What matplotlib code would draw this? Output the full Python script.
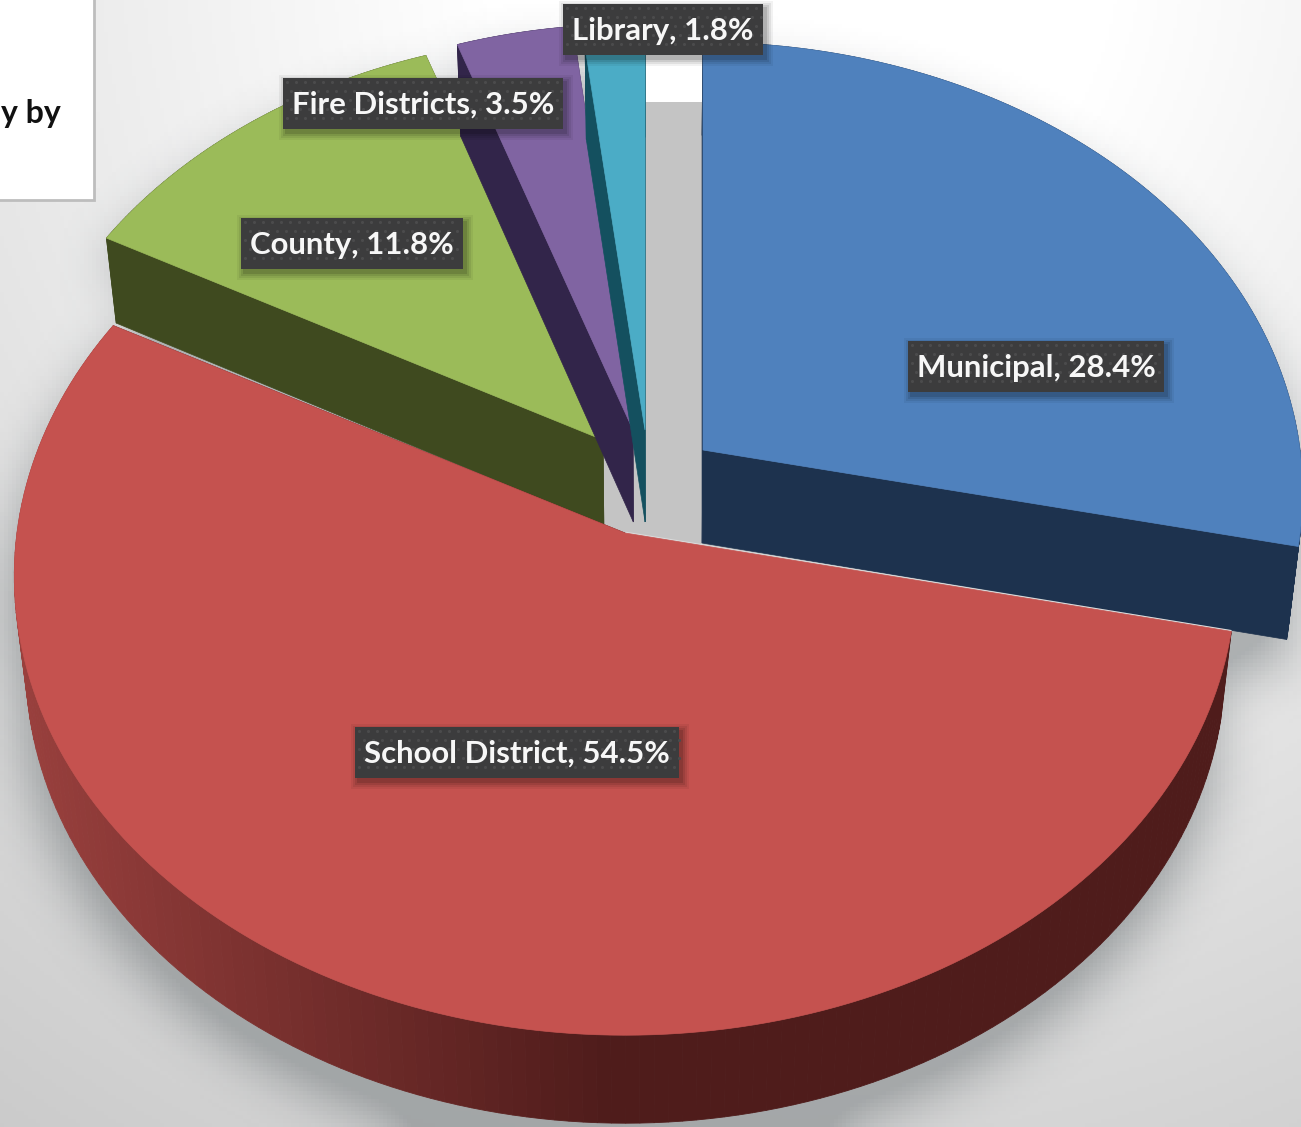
import numpy as np
import matplotlib
matplotlib.use("Agg")
import matplotlib.pyplot as plt
from matplotlib.patches import Polygon, Rectangle
from matplotlib.path import Path

W, H = 1301, 1127

# Levy shares, clockwise from twelve o'clock
categories = ["Municipal", "School District", "County", "Fire Districts", "Library"]
shares = [28.4, 54.5, 11.8, 3.5, 1.8]

top_colors = ["#4F81BD", "#C5524F", "#9BBB59", "#8064A2", "#4BACC6"]
wall_colors = ["#1D324E", "#4F1C1B", "#3F4A1F", "#32254A", "#14505F"]

# Exploded wedge geometry in pixels: apex, radii of the tilted disc, thickness
apex_x = [703, 625, 603, 633, 645]
apex_y = [450, 533, 440, 430, 430]
radius_x = [597, 608, 590, 585, 580]
radius_y = [446, 455, 443, 444, 421]
depth = [93, 88, 85, 92, 92]
draw_order = [2, 3, 4, 0, 1]

label_x = [1036, 517, 352, 423, 663]
label_y = [366, 752, 243, 103, 29]

PERSPECTIVE = 0.094
VANISH_X = 650
SHRINK = 0.018


def project(i, deg):
    """Map clockwise pie angles onto the tilted disc of wedge i."""
    a = np.radians(deg)
    u, v = np.sin(a), -np.cos(a)
    s = 1 / (1 - PERSPECTIVE * v)
    return apex_x[i] + radius_x[i] * u * s, apex_y[i] + radius_y[i] * v * s


def lower(i, x, y):
    """Same points on the underside of wedge i."""
    return x + (VANISH_X - x) * SHRINK, y + depth[i]


edges = np.concatenate([[0], np.cumsum(shares)]) * 3.6
edges[-1] = 360

fig = plt.figure(figsize=(W / 100, H / 100), dpi=100)
ax = fig.add_axes([0, 0, 1, 1])
ax.set_xlim(0, W)
ax.set_ylim(H, 0)
ax.set_autoscale_on(False)
ax.axis("off")

# Backdrop: soft radial falloff from near white to light grey
yy, xx = np.mgrid[0:H:4, 0:W:4]
r = np.hypot(xx - 800, yy + 50)
grey = np.clip(255 - (r - 320) / 1100 * 52, 200, 255) / 255
ax.imshow(np.dstack([grey, grey, grey]), extent=(0, W, H, 0), aspect="auto", zorder=0)


def outline(i):
    n = 160
    xs, ys = project(i, np.linspace(edges[i], edges[i + 1], n))
    top = np.column_stack([np.r_[apex_x[i], xs], np.r_[apex_y[i], ys]])
    bx, by = lower(i, top[:, 0], top[:, 1])
    return top, np.column_stack([bx, by])


# Soft drop shadow under all the wedges
pts = np.column_stack([xx.ravel(), yy.ravel()])
mask = np.zeros(xx.shape)
for i in range(len(shares)):
    for poly in outline(i):
        mask = np.maximum(mask, Path(poly + [-4, 30]).contains_points(pts).reshape(xx.shape))
kernel = np.ones(13) / 13
pad = 20
mask = np.pad(mask, pad, mode="edge")
for _ in range(3):
    mask = np.apply_along_axis(lambda c: np.convolve(c, kernel, mode="same"), 0, mask)
    mask = np.apply_along_axis(lambda c: np.convolve(c, kernel, mode="same"), 1, mask)
mask = mask[pad:-pad, pad:-pad]
shadow = np.zeros(xx.shape + (4,))
shadow[..., :3] = (0.40, 0.43, 0.44)
shadow[..., 3] = np.clip(mask * 1.4, 0, 1) * 0.45
ax.imshow(shadow, extent=(0, W, H, 0), aspect="auto", zorder=1)

# Open well between the back wedges and the municipal slice: white above, grey below
ax.add_patch(Rectangle((640, 40), 65, 62, fc="white", ec="none", zorder=2))
ax.add_patch(Rectangle((603, 102), 100, 445, fc="#C4C4C4", ec="none", zorder=2))

z = 3
for i in draw_order:
    top, _ = outline(i)
    for end in (1, -1):
        ex, ey = top[end]
        bx0, by0 = lower(i, apex_x[i], apex_y[i])
        bx1, by1 = lower(i, ex, ey)
        ax.add_patch(Polygon([(apex_x[i], apex_y[i]), (ex, ey), (bx1, by1), (bx0, by0)],
                             fc=wall_colors[i], ec=wall_colors[i], lw=0.5, zorder=z))
    rim = top[1:]
    rx, ry = lower(i, rim[:, 0], rim[:, 1])
    for k in range(len(rim) - 1):
        t = np.clip((610 - rim[k, 0]) / 590, 0, 1) if i == 1 else 0
        base = np.array(matplotlib.colors.to_rgb(wall_colors[i]))
        shade = base + (np.array([0.60, 0.25, 0.24]) - base) * t
        ax.add_patch(Polygon([rim[k], rim[k + 1], (rx[k + 1], ry[k + 1]), (rx[k], ry[k])],
                             fc=shade, ec=shade, lw=0.6, zorder=z))
    if i == 1:
        ax.plot([top[0, 0], top[1, 0]], [top[0, 1] + 1, top[1, 1] + 1],
                color="#DADADA", lw=3.5, solid_capstyle="butt", zorder=z)
    ax.add_patch(Polygon(top, fc=top_colors[i], ec=top_colors[i], lw=0.5, zorder=z + 0.5))
    z += 1

# Legend panel, cut by the figure edge
ax.add_patch(Rectangle((-3, -3), 97, 203, fc="white", ec="#BDBDBD", lw=2, zorder=20))
ax.text(1, 113, "y by", ha="left", va="center", fontsize=23, fontweight="bold",
        family="Lato", color="#111111", zorder=21)

# Data labels: dark textured plates with white bold captions
labels = [f"{c}, {v}%" for c, v in zip(categories, shares)]
fig.canvas.draw()
renderer = fig.canvas.get_renderer()
for name, lx, ly in zip(labels, label_x, label_y):
    t = ax.text(lx, ly + 2, name, ha="center", va="center", fontsize=22.4, fontweight="bold",
                family="Lato", color="#F7F7F7", zorder=32)
    ext = t.get_window_extent(renderer)
    x0, x1 = ext.x0 - 9, ext.x1 + 9
    y0, y1 = ly - 25.5, ly + 25.5
    for grow, alpha in zip((7, 5, 3, 1), (0.05, 0.07, 0.09, 0.12)):
        ax.add_patch(Rectangle((x0 + 3 - grow, y0 + 4 - grow), x1 - x0 + 2 * grow, y1 - y0 + 2 * grow,
                               fc="black", ec="none", alpha=alpha, zorder=30))
    ax.add_patch(Rectangle((x0, y0), x1 - x0, y1 - y0, fc="#3C3C3D", ec="none", zorder=30.5))
    gx, gy = np.meshgrid(np.arange(x0 + 4, x1 - 2, 9), np.arange(y0 + 4, y1 - 2, 9))
    gx[1::2] += 4.5
    ax.scatter(gx.ravel(), gy.ravel(), s=5, color="#4B4B4C", linewidths=0, zorder=31)

fig.savefig("out.png", dpi=100)
